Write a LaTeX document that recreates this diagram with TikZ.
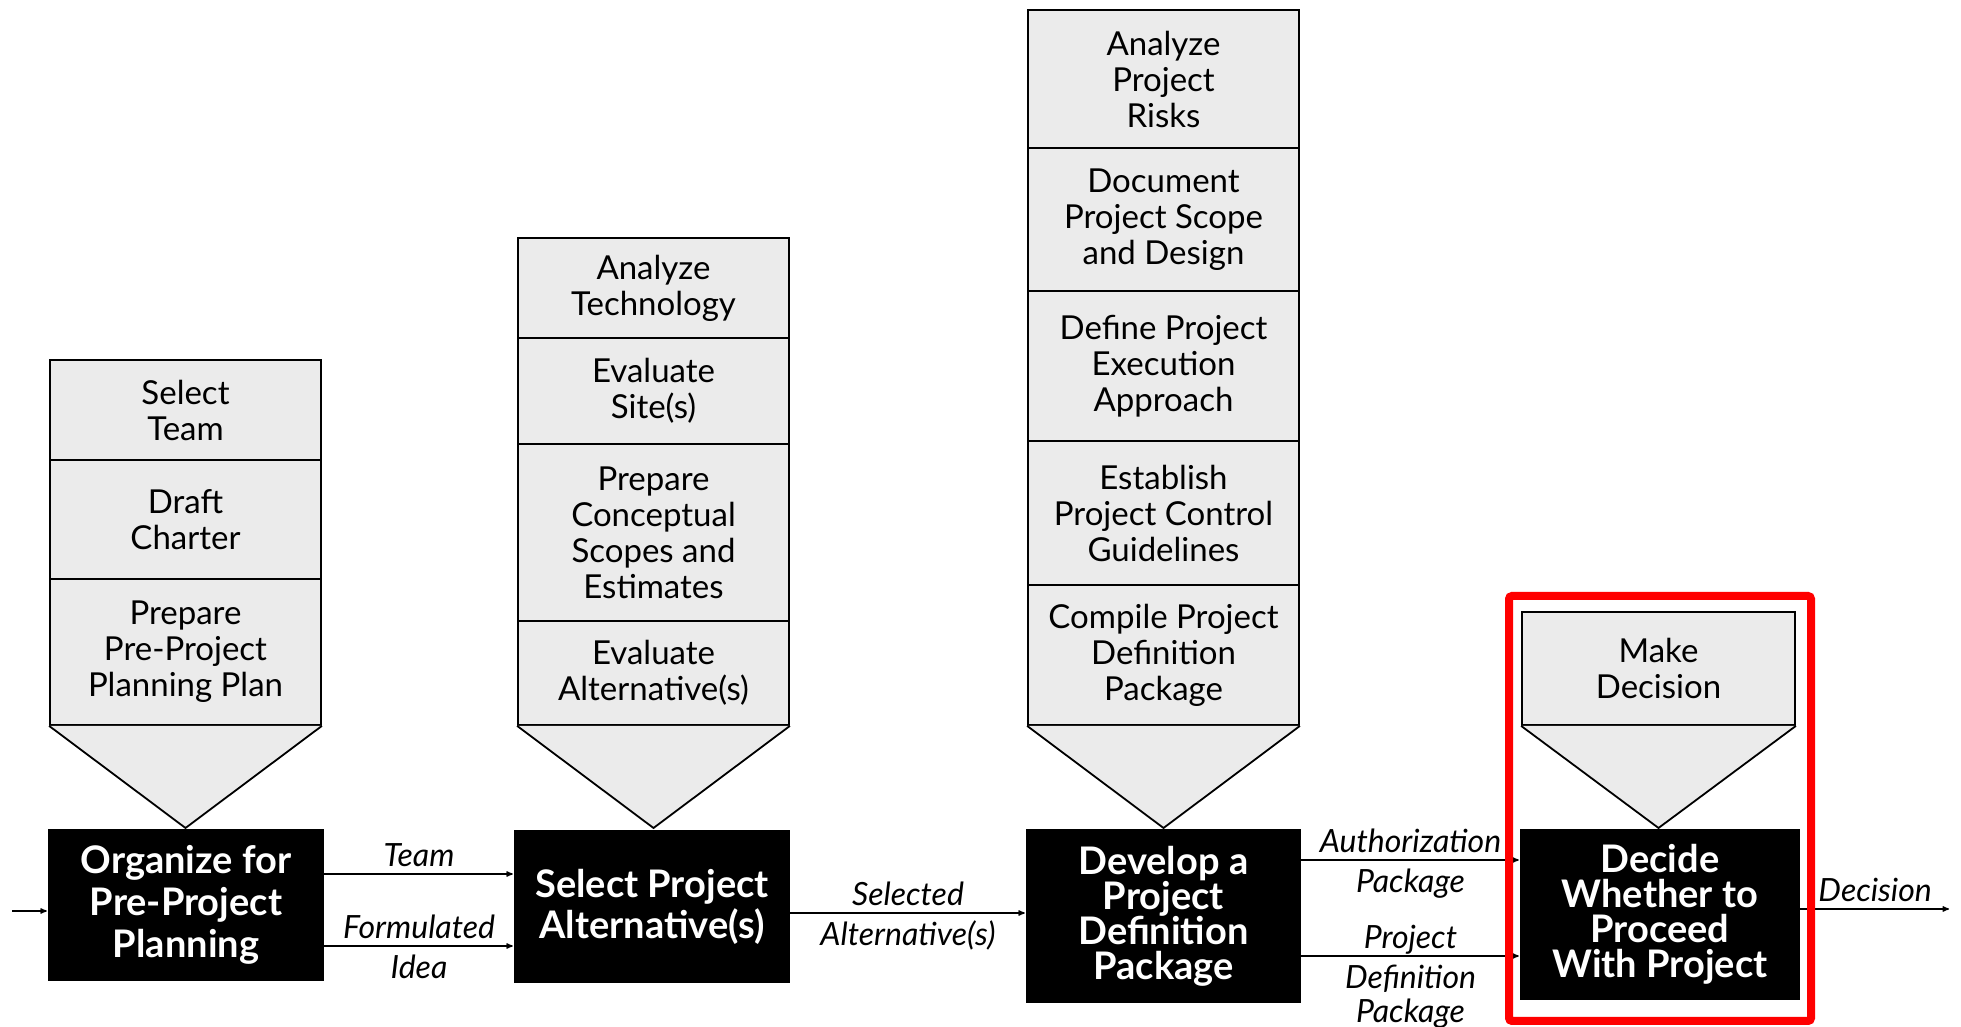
\documentclass[tikz,border=0pt]{standalone}
\usepackage{fontspec}
\setsansfont{Lato}
\usetikzlibrary{arrows,positioning,shapes}

\begin{document}
\begin{tikzpicture}[x=1pt,y=1pt,font=\sffamily,
  task/.style={draw,line width=1.8pt,fill=gray!16,minimum width=271pt,inner sep=0pt,
    align=center,font=\sffamily\fontsize{33}{36}\selectfont},
  phase/.style={fill=black,text=white,inner sep=0pt,align=center,
    font={\sffamily\bfseries\fontsize{38}{35}\selectfont\lineskiplimit=-30pt\relax}},
  chevron/.style={draw,line width=1.8pt,fill=gray!16},
  to/.style={->,>=stealth',shorten >=1pt,line width=1.3pt},
  flow/.style={inner sep=0pt,text height=23pt,text depth=7pt,
    font=\sffamily\itshape\fontsize{32}{34}\selectfont},
  flowb/.style={flow,below,yshift=-9pt}]

    \useasboundingbox (0,0) rectangle (1961,1027);

    % organize for pre-project planning
    \node[task,minimum height=100pt](team) at (185.5,617){Select\\Team};
    \node[task,minimum height=119pt](charter) at (185.5,507.5){Draft\\Charter};
    \node[task,minimum height=146pt](ppp) at (185.5,375){Prepare\\Pre-Project\\Planning Plan};
    \draw[chevron](ppp.south west) -- (185.5,199) -- (ppp.south east);
    \node[phase,minimum width=276pt,minimum height=152pt](org) at (186,122)
        {Organize for\\[7pt]Pre-Project\\[7pt]Planning};

    % select project alternative(s)
    \node[task,minimum height=100pt](tech) at (653.5,739){Analyze\\Technology};
    \node[task,minimum height=106pt](site) at (653.5,636){Evaluate\\Site(s)};
    \node[task,minimum height=177pt](scope) at (653.5,494.5){Prepare\\Conceptual\\Scopes and\\Estimates};
    \node[task,minimum height=104pt](alt) at (653.5,354){Evaluate\\Alternative(s)};
    \draw[chevron](alt.south west) -- (653.5,199) -- (alt.south east);
    \node[phase,minimum width=276pt,minimum height=153pt](sel) at (652,120.5)
        {Select Project\\[6pt]Alternative(s)};

    % develop a project definition package
    \node[task,minimum height=138pt](risk) at (1163.5,948){Analyze\\Project\\Risks};
    \node[task,minimum height=143pt](design) at (1163.5,807.5){Document\\Project Scope\\and Design};
    \node[task,minimum height=150pt](exec) at (1163.5,661){Define Project\\Execution\\Approach};
    \node[task,minimum height=144pt](ctrl) at (1163.5,514){Establish\\Project Control\\Guidelines};
    \node[task,minimum height=140pt](pdp) at (1163.5,372){Compile Project\\Definition\\Package};
    \draw[chevron](pdp.south west) -- (1163.5,199) -- (pdp.south east);
    \node[phase,minimum width=275pt,minimum height=174pt](dev) at (1163.5,111)
        {Develop a\\Project\\Definition\\Package};

    % decide whether to proceed
    \node[task,minimum width=273pt,minimum height=113pt](make) at (1658.5,358.5){Make\\Decision};
    \draw[chevron](make.south west) -- (1658.5,199) -- (make.south east);
    \node[phase,minimum width=280pt,minimum height=171pt](dec) at (1660,112.5)
        {Decide\\Whether to\\Proceed\\With Project};

    % flows
    \coordinate(in) at (12,116);
    \coordinate(out) at (1950,118);
    \draw[to](in) -- (org.west |- in);
    \draw[to](org.east |- 0,153) -- node[flow,above]{Team} (sel.west |- 0,153);
    \draw[to](org.east |- 0,81) -- node[flow,above]{Formulated} node[flowb]{Idea} (sel.west |- 0,81);
    \draw[to](sel.east |- 0,114) -- node[flow,above]{Selected} node[flowb]{Alternative(s)} (dev.west |- 0,114);
    \draw[to](dev.east |- 0,167) -- node[flow,above]{Authorization} node[flowb]{Package} (dec.west |- 0,167);
    \draw[to](dev.east |- 0,71) -- node[flow,above]{Project} node[flowb]{Definition}
        node[flowb,yshift=-34pt]{Package} (dec.west |- 0,71);
    \draw[to](dec.east |- out) -- node[flow,above]{Decision} (out);

    % highlight
    \draw[red,line width=8pt,rounded corners=3pt](1509,6) rectangle (1811,431);
\end{tikzpicture}
\end{document}
